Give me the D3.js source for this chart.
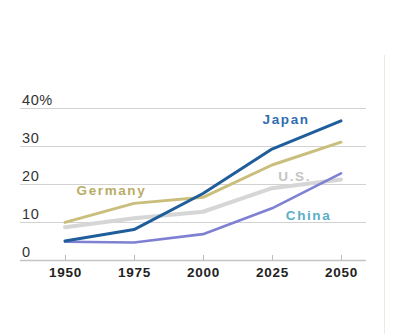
<!DOCTYPE html>
<html><head><meta charset="utf-8">
<script src="https://cdn.jsdelivr.net/npm/d3@7"></script>
<style>body{margin:0;background:#fff}svg{display:block}</style>
</head><body>
<svg id="c" width="400" height="334"></svg>
<script>
const years = [1950, 1975, 2000, 2025, 2050];
const yTicks = [0, 10, 20, 30, 40];
const yTickLabels = ["0", "10", "20", "30", "40%"];
const japan   = [5, 8, 17.5, 29.2, 36.6];
const germany = [9.9, 14.9, 16.5, 25, 31];
const us      = [8.6, 11, 12.7, 18.9, 21.2];
const china   = [4.8, 4.6, 6.8, 13.6, 22.8];
const seriesNames = ["U.S.", "Germany", "China", "Japan"];

const series = [
  {name: "U.S.", values: us, color: "#d6d6d6", width: 4, label: "#c4c4c4", lx: 2027.3, ly: 20.7},
  {name: "Germany", values: germany, color: "#c9be7c", width: 3, label: "#b9ac68", lx: 1954.2, ly: 17.0},
  {name: "China", values: china, color: "#7f80d2", width: 2.6, label: "#5aaec6", lx: 2030, ly: 10.4},
  {name: "Japan", values: japan, color: "#1f5d9b", width: 3, label: "#2f6db0", lx: 2021.6, ly: 35.7}
];

const svg = d3.select("#c");
const x = d3.scaleLinear().domain([1950, 2050]).range([65, 341]);
const y = d3.scaleLinear().domain([0, 40]).range([260, 108]);

svg.append("line").attr("x1",384.5).attr("x2",384.5).attr("y1",55).attr("y2",334)
  .attr("stroke","#eeeae0").attr("stroke-width",1);

const grid = svg.append("g");
yTicks.forEach((t, i) => {
  grid.append("line").attr("x1", 20).attr("x2", 366)
    .attr("y1", Math.round(y(t)) + 0.5).attr("y2", Math.round(y(t)) + 0.5)
    .attr("stroke", i === 0 ? "#c4c4c4" : "#d2d2d2").attr("stroke-width", i === 0 ? 1.5 : 1.2);
  grid.append("text").attr("x", 22).attr("y", y(t) - 3)
    .attr("font-family", "Liberation Sans, Arial, sans-serif").attr("font-size", 14.5)
    .attr("letter-spacing", 0.6).attr("fill", "#333").text(yTickLabels[i]);
});

const xAxis = d3.axisBottom(x).tickValues(years).tickFormat(d3.format("d")).tickSize(0).tickPadding(0);
const gx = svg.append("g").attr("transform", "translate(0,260)").call(xAxis);
gx.select(".domain").remove();
gx.selectAll("text").attr("dy", null).attr("y", 17)
  .attr("font-family", "Liberation Sans, Arial, sans-serif").attr("font-size", 13.5)
  .attr("font-weight", "bold").attr("letter-spacing", 0.8).attr("fill", "#222");
gx.selectAll(".tick").append("line").attr("y1", -5).attr("y2", 0).attr("stroke", "#bbb");

const line = d3.line().x((d, i) => x(years[i])).y(d => y(d));
series.forEach(s => {
  svg.append("path").datum(s.values).attr("d", line)
    .attr("fill", "none").attr("stroke", s.color).attr("stroke-width", s.width)
    .attr("stroke-linejoin", "round").attr("stroke-linecap", "round");
});

series.forEach(s => {
  svg.append("text").attr("x", x(s.lx)).attr("y", y(s.ly))
    .attr("font-family", "Liberation Sans, Arial, sans-serif").attr("font-size", 13.5)
    .attr("font-weight", "bold").attr("letter-spacing", 1.6)
    .attr("fill", s.label).text(s.name);
});
</script>
</body></html>
